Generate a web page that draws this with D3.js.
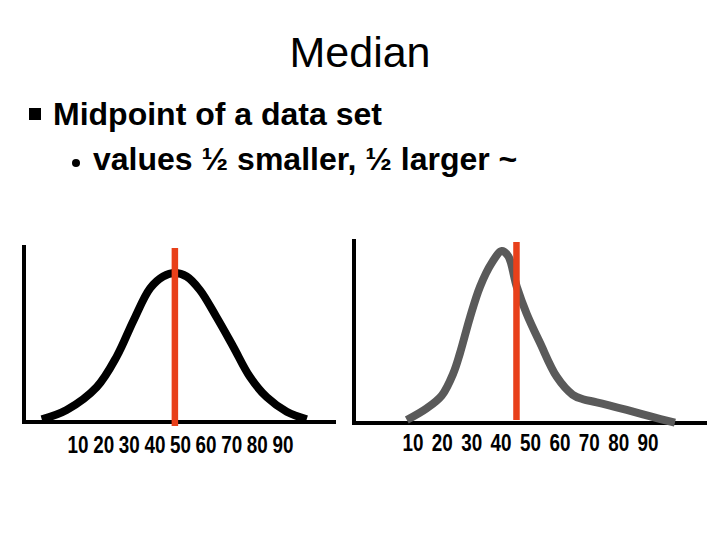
<!DOCTYPE html>
<html>
<head>
<meta charset="utf-8">
<script src="https://cdn.jsdelivr.net/npm/d3@7"></script>
<style>
  body { margin: 0; background: #fff; }
  text { font-family: "Liberation Sans", Arial, sans-serif; }
</style>
</head>
<body>
<svg id="slide" width="720" height="540"></svg>
<script>
'use strict';

// tick labels shared by both panels
var tickValues = [10, 20, 30, 40, 50, 60, 70, 80, 90];

// symmetric distribution (left panel)
var bellX = [-4, 5.7, 17.5, 25.3, 31.8, 38.3, 43.4, 48, 52.6, 57.8, 64.3, 70.7, 77.3, 83.9, 91.7, 99.5];
var bellY = [0.01, 0.065, 0.20, 0.38, 0.59, 0.78, 0.85, 0.87, 0.85, 0.77, 0.61, 0.44, 0.26, 0.14, 0.055, 0.01];
var bellMedian = 48;

// skewed distribution (right panel)
var skewX = [8.1, 14.9, 20, 23.9, 26.2, 29.6, 33, 37, 40.4, 42.6, 45.5, 48.9, 53.4, 59.1, 64.5, 68, 72.7, 82.9, 91, 99.3];
var skewY = [0.006, 0.075, 0.15, 0.28, 0.40, 0.61, 0.79, 0.93, 1.0, 0.97, 0.79, 0.63, 0.46, 0.26, 0.155, 0.128, 0.11, 0.065, 0.027, -0.01];
var skewMedian = 45.4;

var svg = d3.select('#slide');

// title + bullets
svg.append('text')
    .attr('x', 360)
    .attr('y', 67)
    .attr('text-anchor', 'middle')
    .style('font-size', '43px')
    .text('Median');

svg.append('rect')
    .attr('x', 29).attr('y', 108)
    .attr('width', 12).attr('height', 12)
    .attr('fill', '#000');

svg.append('text')
    .attr('x', 53)
    .attr('y', 125)
    .style('font-size', '32px')
    .style('font-weight', 'bold')
    .text('Midpoint of a data set');

svg.append('circle')
    .attr('cx', 76).attr('cy', 163)
    .attr('r', 4)
    .attr('fill', '#000');

svg.append('text')
    .attr('x', 93)
    .attr('y', 170)
    .style('font-size', '32px')
    .style('font-weight', 'bold')
    .text('values ½ smaller, ½ larger ~');

var y = d3.scaleLinear().domain([0, 1]).range([421, 251]);

var panels = [
    { x: d3.scaleLinear().domain([0, 100]).range([52, 308]), xs: bellX, ys: bellY, median: bellMedian,
      color: '#000', frame: { left: 24, right: 336, top: 245, base: 422 }, redTop: 1.018, redBottom: -0.03,
      labelY: 453, fontSize: 23, squeeze: 0.82 },
    { x: d3.scaleLinear().domain([0, 100]).range([383, 677]), xs: skewX, ys: skewY, median: skewMedian,
      color: '#5a5a5a', frame: { left: 354, right: 707, top: 239, base: 423 }, redTop: 1.053, redBottom: 0.006,
      labelY: 451, fontSize: 23, squeeze: 0.82 }
];

panels.forEach(function(p) {
    var g = svg.append('g');

    //frame
    g.append('line')
        .attr('x1', p.frame.left).attr('y1', p.frame.top)
        .attr('x2', p.frame.left).attr('y2', p.frame.base + 2)
        .attr('stroke', '#000').attr('stroke-width', 4);
    g.append('line')
        .attr('x1', p.frame.left - 2).attr('y1', p.frame.base)
        .attr('x2', p.frame.right).attr('y2', p.frame.base)
        .attr('stroke', '#000').attr('stroke-width', 4);

    //curve
    var pts = p.xs.map(function(d, i) { return [d, p.ys[i]]; });
    var line = d3.line()
        .x(function(d) { return p.x(d[0]); })
        .y(function(d) { return y(d[1]); })
        .curve(d3.curveCatmullRom.alpha(0.5));

    g.append('path')
        .datum(pts)
        .attr('d', line)
        .attr('fill', 'none')
        .attr('stroke', p.color)
        .attr('stroke-width', 8)
        .attr('stroke-linejoin', 'round');

    //median
    g.append('line')
        .attr('x1', p.x(p.median)).attr('x2', p.x(p.median))
        .attr('y1', y(p.redTop)).attr('y2', y(p.redBottom))
        .attr('stroke', '#e8401a')
        .attr('stroke-width', 6.5);

    //tick labels
    var axis = d3.axisBottom(p.x)
        .tickValues(tickValues)
        .tickSize(0)
        .tickFormat(d3.format('d'));

    var ax = g.append('g')
        .attr('transform', 'translate(0,' + p.labelY + ')')
        .call(axis);
    ax.select('.domain').remove();
    ax.selectAll('text')
        .attr('y', 0)
        .attr('dy', 0)
        .attr('fill', '#000')
        .attr('transform', 'scale(' + p.squeeze + ',1)')
        .style('font-family', '"Liberation Sans", Arial, sans-serif')
        .style('font-weight', 'bold')
        .style('font-size', p.fontSize + 'px');
});
</script>
</body>
</html>
